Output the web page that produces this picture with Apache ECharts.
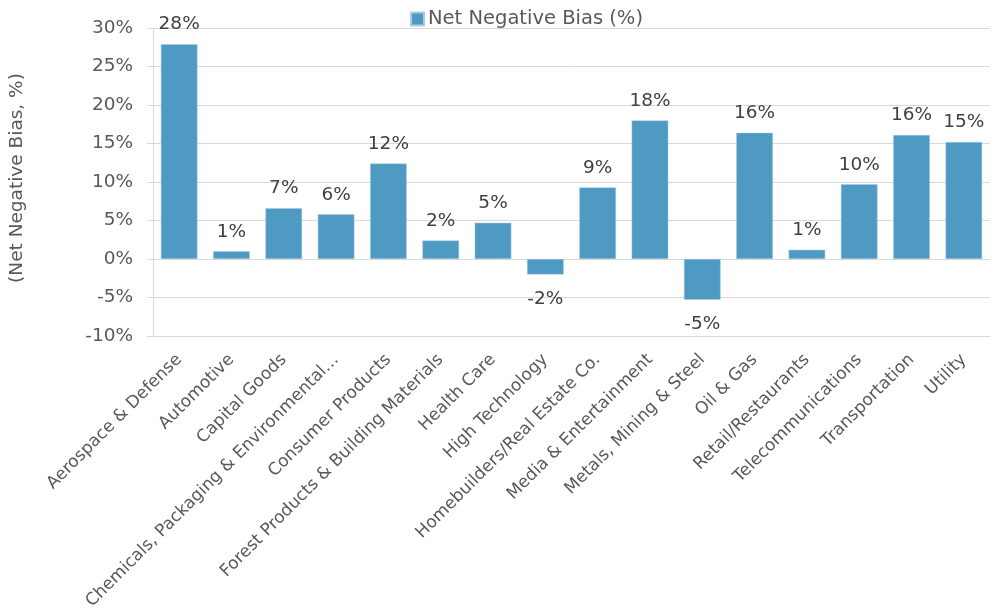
<!DOCTYPE html>
<html>
<head>
<meta charset="utf-8">
<script src="https://cdn.jsdelivr.net/npm/echarts@6/dist/echarts.min.js"></script>
<style>
html,body{margin:0;padding:0;background:#fff;}
#chart{width:994px;height:614px;}
</style>
</head>
<body>
<div id="chart"></div>
<script>
const categories = [
  "Aerospace & Defense",
  "Automotive",
  "Capital Goods",
  "Chemicals, Packaging & Environmental…",
  "Consumer Products",
  "Forest Products & Building Materials",
  "Health Care",
  "High Technology",
  "Homebuilders/Real Estate Co.",
  "Media & Entertainment",
  "Metals, Mining & Steel",
  "Oil & Gas",
  "Retail/Restaurants",
  "Telecommunications",
  "Transportation",
  "Utility"
];
const seriesName = "Net Negative Bias (%)";
const values = [27.9, 1.0, 6.6, 5.8, 12.4, 2.4, 4.7, -2.0, 9.3, 18.0, -5.3, 16.4, 1.2, 9.7, 16.1, 15.2];
const yTicks = {min: -10, max: 30, interval: 5};
const yAxisTitle = "(Net Negative Bias, %)";

const FONT = "DejaVu Sans";
const TXT = "#595959";
const BAR = "#4f9ac2";

const chart = echarts.init(document.getElementById('chart'), null, {renderer: 'canvas'});
chart.setOption({
  animation: false,
  textStyle: {fontFamily: FONT},
  legend: {
    show: true,
    left: 405, top: 4,
    itemWidth: 13, itemHeight: 13, itemGap: 6,
    icon: 'rect',
    textStyle: {fontFamily: FONT, fontSize: 19.5, color: TXT, padding: [0,0,0,-1]},
    data: [seriesName]
  },
  grid: {left: 153, right: 4, top: 28, bottom: 278, containLabel: false},
  xAxis: {
    type: 'category',
    data: categories,
    axisLine: {onZero: false, lineStyle: {color: '#d9d9d9', width: 1}},
    axisTick: {show: false},
    axisLabel: {interval: 0, rotate: 45, fontFamily: FONT, fontSize: 17, color: TXT, margin: 21}
  },
  yAxis: {
    type: 'value',
    min: yTicks.min, max: yTicks.max, interval: yTicks.interval,
    name: yAxisTitle,
    nameLocation: 'middle',
    nameRotate: 90,
    nameGap: 126,
    nameTextStyle: {fontFamily: FONT, fontSize: 18.5, color: TXT, padding: [0, 0, 0, 8]},
    axisLine: {show: true, lineStyle: {color: '#d9d9d9'}},
    axisTick: {show: true, length: 6, lineStyle: {color: '#d9d9d9'}},
    splitLine: {lineStyle: {color: '#d9d9d9', width: 1}},
    axisLabel: {formatter: '{value}%', fontFamily: FONT, fontSize: 18.5, color: TXT, margin: 20}
  },
  series: [{
    name: seriesName,
    type: 'bar',
    barCategoryGap: '30%',
    itemStyle: {color: BAR, borderColor: '#a9cde2', borderWidth: 0.5},
    data: values.map(v => ({
      value: v,
      label: v < 0 ? {position: 'bottom', distance: 15} : {position: 'top', distance: 10}
    })),
    label: {
      show: true,
      fontFamily: FONT, fontSize: 18.5, color: '#404040',
      formatter: p => Math.round(p.value) + '%'
    }
  }]
});
</script>
</body>
</html>
